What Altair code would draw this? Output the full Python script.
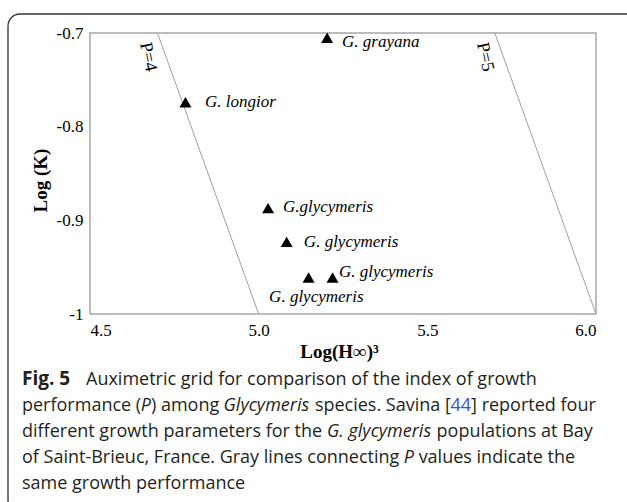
import altair as alt
import pandas as pd

# ---- data ----
species = ["G. grayana", "G. longior", "G.glycymeris", "G. glycymeris", "G. glycymeris", "G. glycymeris"]
log_h3 = [5.203, 4.783, 5.028, 5.083, 5.148, 5.219]
log_k = [-0.705, -0.774, -0.887, -0.923, -0.961, -0.961]

# label anchor positions (left edge, vertical centre)
label_text = ["G. grayana", "G. longior", "G.glycymeris", "G. glycymeris", "G. glycymeris", "G. glycymeris"]
label_x = [5.247, 4.841, 5.072, 5.134, 5.238, 5.031]
label_y = [-0.7096, -0.7737, -0.8858, -0.923, -0.955, -0.982]

# iso-P lines: P = log(H^3) + log(K)
p_values = [4, 5]
k_ends = [-0.7, -1.0]
p_label_text = ["P=4", "P=5"]
p_label_x = [4.672, 5.671]
p_label_y = [-0.7256, -0.7256]

x_ticks = [4.5, 5.0, 5.5, 6.0]
y_ticks = [-1.0, -0.9, -0.8, -0.7]

# caption, line by line, as (style, text) runs
caption_lines = [
    [("bold", "Fig. 5"), ("gap", ""), ("normal", "Auximetric grid for comparison of the index of growth")],
    [("normal", "performance ("), ("italic", "P"), ("normal", ") among "), ("italic", "Glycymeris"),
     ("normal", " species. Savina ["), ("blue", "44"), ("normal", "] reported four")],
    [("normal", "different growth parameters for the "), ("italic", "G. glycymeris"),
     ("normal", " populations at Bay")],
    [("normal", "of Saint-Brieuc, France. Gray lines connecting "), ("italic", "P"),
     ("normal", " values indicate the")],
    [("normal", "same growth performance")],
]

# ---- layout ----
W, H = 506, 281
PAD_L, PAD_T = 90, 33
CAP_X0 = 22
CAP_AUX_X = 86
CAP_BASE = 385
CAP_STEP = 26
CAP_SIZE = 18

# approximate Open Sans advance widths (units per em 2048), used only for laying out caption runs
ADV = {
    " ": 532, "a": 1139, "b": 1255, "c": 975, "d": 1255, "e": 1149, "f": 694, "g": 1122, "h": 1257,
    "i": 518, "j": 518, "k": 1075, "l": 518, "m": 1905, "n": 1257, "o": 1237, "p": 1255, "q": 1255,
    "r": 836, "s": 977, "t": 723, "u": 1257, "v": 1026, "w": 1593, "x": 1073, "y": 1028, "z": 977,
    "A": 1296, "B": 1327, "C": 1292, "F": 1057, "G": 1491, "P": 1225, "S": 1114, "4": 1171, "5": 1171,
    "(": 547, ")": 547, "[": 627, "]": 627, ".": 545, ",": 502, "-": 659,
}


def text_w(s, style):
    f = 0.945 if style == "italic" else (1.06 if style == "bold" else 1.0)
    return sum(ADV.get(c, 1100) for c in s) / 2048 * CAP_SIZE * f


cap_rows = []
for li, runs in enumerate(caption_lines):
    x = CAP_X0
    for style, t in runs:
        if style == "gap":
            x = CAP_AUX_X
            continue
        lead = len(t) - len(t.lstrip(" "))
        xs0 = x + text_w(" " * lead, "normal")
        shown = t.strip(" ")
        cap_rows.append({"px": xs0 - PAD_L, "py": CAP_BASE + CAP_STEP * li - PAD_T, "style": style, "text": shown})
        x += text_w(t, style)
cap_df = pd.DataFrame(cap_rows)

pts = pd.DataFrame({"species": species, "x": log_h3, "y": log_k})
labs = pd.DataFrame({"text": label_text, "x": label_x, "y": label_y})
lines = pd.DataFrame([{"P": p, "x": p - k, "y": k} for p in p_values for k in k_ends])
plabs = pd.DataFrame({"text": p_label_text, "x": p_label_x, "y": p_label_y})

serif = "Liberation Serif"
xs = alt.Scale(domain=[4.5, 6.0], nice=False, zero=False)
ys = alt.Scale(domain=[-1.0, -0.7], nice=False, zero=False)

x_axis = alt.Axis(
    values=x_ticks, format=".1f", title="Log(H∞)³", labelPadding=8,
    titleX=249, titleY=37, titleBaseline="middle", titleAlign="center",
)
y_axis = alt.Axis(
    values=y_ticks, title="Log (K)", labelPadding=7,
    labelExpr="datum.value <= -0.999 ? '-1' : '-' + format(-datum.value, '.1f')",
    titleX=-50, titleY=147, titleAngle=270, titleBaseline="middle", titleAlign="center",
)

iso = alt.Chart(lines).mark_line(color="#a0a0a0", strokeWidth=1).encode(
    x=alt.X("x:Q", scale=xs, axis=x_axis),
    y=alt.Y("y:Q", scale=ys, axis=y_axis),
    detail="P:N",
)

tri = alt.Chart(pts).mark_point(shape="triangle-up", filled=True, color="black", size=145, opacity=1).encode(
    x=alt.X("x:Q", scale=xs),
    y=alt.Y("y:Q", scale=ys),
)

txt = alt.Chart(labs).mark_text(
    font=serif, fontStyle="italic", fontSize=17, align="left", baseline="middle", color="black"
).encode(x=alt.X("x:Q", scale=xs), y=alt.Y("y:Q", scale=ys), text="text:N")

ptxt = alt.Chart(plabs).mark_text(
    font=serif, fontSize=18, align="center", baseline="middle", angle=78, color="black"
).encode(x=alt.X("x:Q", scale=xs), y=alt.Y("y:Q", scale=ys), text="text:N")

cap_font = "Open Sans"
cap_layers = []
for style, kw in [
    ("normal", dict(color="#231f20", fontSize=CAP_SIZE)),
    ("italic", dict(color="#231f20", fontStyle="italic", fontSize=CAP_SIZE)),
    ("bold", dict(color="#231f20", fontWeight="bold", fontSize=CAP_SIZE + 1)),
    ("blue", dict(color="#3a4fd8", fontSize=CAP_SIZE)),
]:
    cap_layers.append(
        alt.Chart(cap_df).transform_filter(alt.datum.style == style).mark_text(
            font=cap_font, align="left", baseline="alphabetic", **kw
        ).encode(
            x=alt.X("px:Q", scale=None),
            y=alt.Y("py:Q", scale=None),
            text="text:N",
        )
    )

frame = alt.Chart(pd.DataFrame({"a": [0]})).mark_rect(
    fillOpacity=0, stroke="#333333", strokeWidth=1.3, cornerRadius=12
).encode(
    x=alt.value(8 - PAD_L), x2=alt.value(660 - PAD_L),
    y=alt.value(14 - PAD_T), y2=alt.value(512 - PAD_T),
)

chart = alt.layer(iso, tri, txt, ptxt, *cap_layers, frame).properties(
    width=W, height=H,
    autosize=alt.AutoSizeParams(type="none"),
    padding={"left": PAD_L, "top": PAD_T, "right": 627 - PAD_L - W, "bottom": 502 - PAD_T - H},
    background="white",
).configure_view(
    stroke="#a6a6a6", strokeWidth=1.5
).configure_axis(
    domain=False, ticks=False, grid=False,
    labelFont=serif, labelFontSize=17, labelColor="black",
    titleFont=serif, titleFontSize=19, titleFontWeight="bold", titleColor="black",
)

chart.save("out.html", embed_options={"renderer": "svg", "actions": False})
